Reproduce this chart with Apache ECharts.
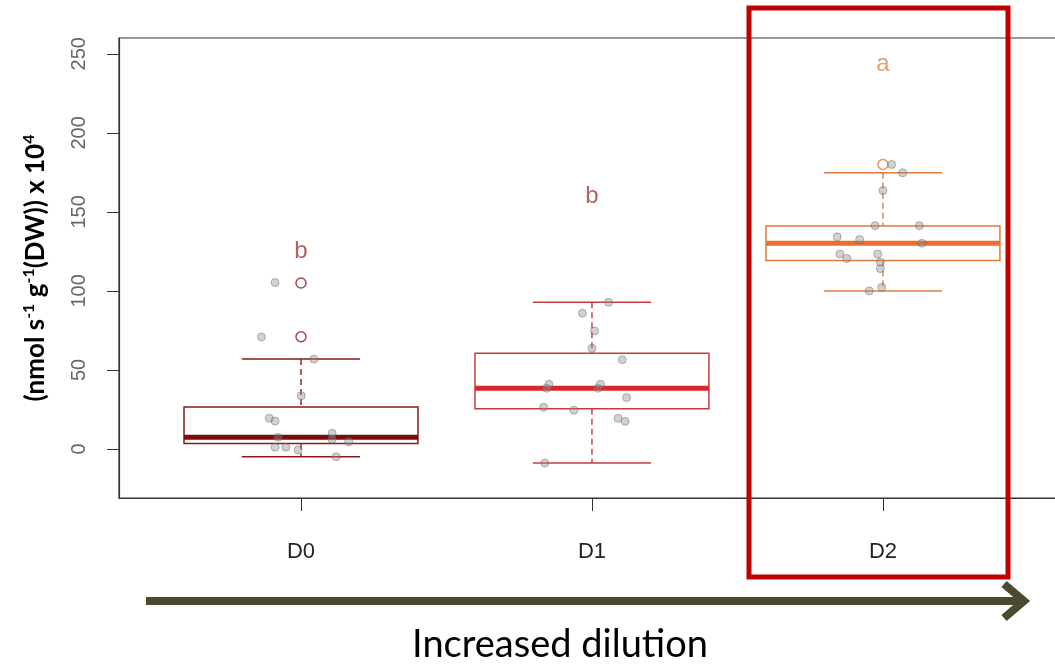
<!DOCTYPE html>
<html>
<head>
<meta charset="utf-8">
<script src="https://cdn.jsdelivr.net/npm/echarts@6/dist/echarts.min.js"></script>
<style>
  html, body { margin: 0; padding: 0; background: #fff; }
  #chart { width: 1055px; height: 666px; }
</style>
</head>
<body>
<div id="chart"></div>
<script>
// groups along the dilution gradient
const groups = ['D0', 'D1', 'D2'];

// [x, low whisker, Q1, median, Q3, high whisker]
const boxStats = [
  [1, -4.9, 3.4, 7.4, 26.6, 57],
  [2, -8.9, 25.5, 38.4, 60.6, 92.8],
  [3, 100, 119.2, 130.2, 141.1, 174.7]
];

// open-circle outliers [x, value]
const outliers = [[1, 105], [1, 71], [3, 180]];

// jittered raw points: [offset from group centre, value]
const pointsD0 = [
  [-0.089, 105.3], [-0.136, 70.9], [0.044, 56.8], [0.001, 33.7], [-0.109, 19.4],
  [-0.089, 17.7], [-0.079, 7.4], [0.107, 9.9], [0.107, 6.1], [0.164, 4.6],
  [-0.089, 1.1], [-0.052, 1.1], [-0.010, -0.6], [0.121, -4.9]
];
const pointsD1 = [
  [0.057, 92.8], [-0.033, 85.9], [0.009, 74.7], [0.000, 63.7], [0.104, 56.5],
  [-0.148, 40.9], [-0.156, 38.4], [0.029, 40.9], [0.020, 38.4], [0.119, 32.5],
  [-0.166, 26.4], [-0.062, 24.5], [0.090, 19.4], [0.114, 17.5], [-0.162, -8.9]
];
const pointsD2 = [
  [0.030, 180], [0.068, 174.7], [0.000, 163.5], [-0.027, 141.3], [0.125, 141.3],
  [-0.157, 134.2], [-0.080, 132.5], [0.134, 130.2], [-0.148, 123.4], [-0.124, 120.5],
  [-0.018, 123.4], [-0.009, 118.2], [-0.009, 114.1], [-0.004, 102.3], [-0.047, 100]
];

// significance letters and their heights
const sigLetters = ['b', 'b', 'a'];
const sigY = [125, 160, 243];

const yTicks = [0, 50, 100, 150, 200, 250];

const boxColors = ['#8b1a1a', '#c73a3e', '#e07b3c'];
const medianColors = ['#7d0c0c', '#d6282d', '#e86f2c'];
const letterColors = ['#a33a36', '#a8383a', '#e3854a'];

const boxHalf = 0.402;
const capHalf = 0.203;

const jitter = [pointsD0, pointsD1, pointsD2]
  .map((pts, g) => pts.map(p => [g + 1 + p[0], p[1]]))
  .flat();

var myChart = echarts.init(document.getElementById('chart'));

function renderBox(params, api) {
  const i = params.dataIndex;
  const x = api.value(0);
  const lo = api.coord([x, api.value(1)]);
  const q1 = api.coord([x, api.value(2)]);
  const med = api.coord([x, api.value(3)]);
  const q3 = api.coord([x, api.value(4)]);
  const hi = api.coord([x, api.value(5)]);
  const half = api.size([boxHalf, 0])[0];
  const cap = api.size([capHalf, 0])[0];
  const cx = lo[0];
  const c = boxColors[i];
  const dashed = { stroke: c, lineWidth: 1.4, lineDash: [6, 4] };
  const solid = { stroke: c, lineWidth: 1.5 };
  return {
    type: 'group',
    children: [
      { type: 'line', shape: { x1: cx, y1: hi[1], x2: cx, y2: q3[1] }, style: dashed },
      { type: 'line', shape: { x1: cx, y1: q1[1], x2: cx, y2: lo[1] }, style: dashed },
      { type: 'line', shape: { x1: cx - cap, y1: hi[1], x2: cx + cap, y2: hi[1] }, style: solid },
      { type: 'line', shape: { x1: cx - cap, y1: lo[1], x2: cx + cap, y2: lo[1] }, style: solid },
      {
        type: 'rect',
        shape: { x: cx - half, y: q3[1], width: half * 2, height: q1[1] - q3[1] },
        style: { fill: '#fff', stroke: c, lineWidth: 1.5 }
      },
      {
        type: 'line',
        shape: { x1: cx - half, y1: med[1], x2: cx + half, y2: med[1] },
        style: { stroke: medianColors[i], lineWidth: 5 }
      }
    ]
  };
}

const titleFont = { fontFamily: 'Lato', fontWeight: 'bold', color: '#000' };

const option = {
  animation: false,
  grid: {
    left: 119,
    top: 38,
    bottom: 168,
    right: -20,
    outerBoundsMode: 'none',
    show: true,
    borderColor: '#333',
    borderWidth: 1.2
  },
  xAxis: {
    type: 'value',
    min: 0.3746,
    max: 3.66,
    splitLine: { show: false },
    axisLine: { show: true, onZero: false, lineStyle: { color: '#333', width: 1.2 } },
    axisTick: { show: true, length: 13, customValues: [1, 2, 3], lineStyle: { color: '#333' } },
    axisLabel: {
      customValues: [1, 2, 3],
      formatter: v => groups[Math.round(v) - 1],
      margin: 43,
      fontSize: 22,
      color: '#222',
      fontFamily: 'Liberation Sans'
    }
  },
  yAxis: {
    type: 'value',
    min: -31,
    max: 260,
    splitLine: { show: false },
    axisLine: { show: true, onZero: false, lineStyle: { color: '#333', width: 1.2 } },
    axisTick: { show: true, length: 12, customValues: yTicks, lineStyle: { color: '#333' } },
    axisLabel: {
      customValues: yTicks,
      rotate: 90,
      margin: 30,
      fontSize: 20,
      color: '#666',
      fontFamily: 'Liberation Sans'
    },
    name: '{t|(nmol s}{sup|-1}{t| g}{sup|-1}{t|(DW)) x 10}{sup|4}',
    nameLocation: 'middle',
    nameGap: 68,
    nameTextStyle: {
      ...titleFont,
      fontSize: 26,
      rich: {
        t: { ...titleFont, fontSize: 26, lineHeight: 30 },
        sup: { ...titleFont, fontSize: 16, lineHeight: 30, verticalAlign: 'top', padding: [0, 0, 11, 0] }
      }
    }
  },
  series: [
    {
      type: 'custom',
      renderItem: renderBox,
      data: boxStats,
      z: 2
    },
    {
      type: 'scatter',
      data: outliers.map(o => ({ value: o, itemStyle: { borderColor: boxColors[o[0] - 1] } })),
      symbolSize: 10,
      itemStyle: { color: '#fff', borderWidth: 1.5 },
      z: 3
    },
    {
      type: 'scatter',
      data: jitter,
      symbolSize: 8,
      itemStyle: { color: 'rgba(140,140,140,0.5)', borderColor: 'rgba(100,100,100,0.55)', borderWidth: 1 },
      z: 4
    },
    {
      type: 'scatter',
      data: sigY.map((y, i) => ({
        value: [i + 1, y],
        label: { color: letterColors[i] }
      })),
      symbolSize: 0,
      label: {
        show: true,
        position: 'inside',
        formatter: p => sigLetters[p.dataIndex],
        fontSize: 24,
        fontFamily: 'Liberation Sans'
      },
      z: 5
    }
  ],
  graphic: [
    {
      type: 'rect',
      shape: { x: 749, y: 8, width: 259, height: 569 },
      style: { fill: 'none', stroke: '#c00000', lineWidth: 5 },
      z: 100
    },
    {
      type: 'line',
      shape: { x1: 146, y1: 601, x2: 1024, y2: 601 },
      style: { stroke: '#4b4a2f', lineWidth: 8 }
    },
    {
      type: 'polyline',
      shape: { points: [[1004, 584], [1024, 601], [1004, 618]] },
      style: { stroke: '#4b4a2f', lineWidth: 8, fill: 'none' }
    },
    {
      type: 'text',
      x: 560,
      y: 645,
      style: {
        text: 'Increased dilution',
        fontFamily: 'Lato',
        fontSize: 38,
        fill: '#000',
        align: 'center',
        verticalAlign: 'middle'
      }
    }
  ]
};

myChart.setOption(option);
</script>
</body>
</html>
